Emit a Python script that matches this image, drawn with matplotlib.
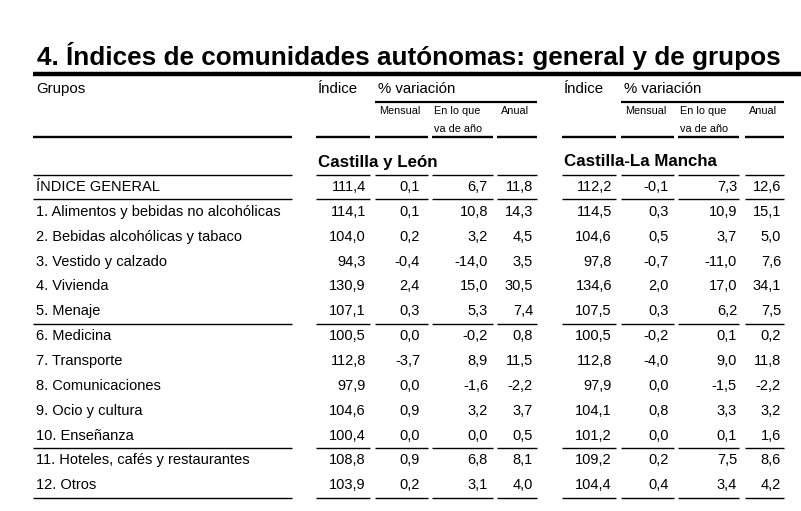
import matplotlib as mpl
mpl.use('Agg')
import matplotlib.pyplot as plt

plt.rcParams['font.family'] = ['Liberation Sans', 'DejaVu Sans']

titulo = '4. Índices de comunidades autónomas: general y de grupos'

grupos = ['ÍNDICE GENERAL',
          '1. Alimentos y bebidas no alcohólicas',
          '2. Bebidas alcohólicas y tabaco',
          '3. Vestido y calzado',
          '4. Vivienda',
          '5. Menaje',
          '6. Medicina',
          '7. Transporte',
          '8. Comunicaciones',
          '9. Ocio y cultura',
          '10. Enseñanza',
          '11. Hoteles, cafés y restaurantes',
          '12. Otros']

regiones = ['Castilla y León', 'Castilla-La Mancha']

cyl_indice  = [111.4, 114.1, 104.0, 94.3, 130.9, 107.1, 100.5, 112.8, 97.9, 104.6, 100.4, 108.8, 103.9]
cyl_mensual = [0.1, 0.1, 0.2, -0.4, 2.4, 0.3, 0.0, -3.7, 0.0, 0.9, 0.0, 0.9, 0.2]
cyl_ano     = [6.7, 10.8, 3.2, -14.0, 15.0, 5.3, -0.2, 8.9, -1.6, 3.2, 0.0, 6.8, 3.1]
cyl_anual   = [11.8, 14.3, 4.5, 3.5, 30.5, 7.4, 0.8, 11.5, -2.2, 3.7, 0.5, 8.1, 4.0]

clm_indice  = [112.2, 114.5, 104.6, 97.8, 134.6, 107.5, 100.5, 112.8, 97.9, 104.1, 101.2, 109.2, 104.4]
clm_mensual = [-0.1, 0.3, 0.5, -0.7, 2.0, 0.3, -0.2, -4.0, 0.0, 0.8, 0.0, 0.2, 0.4]
clm_ano     = [7.3, 10.9, 3.7, -11.0, 17.0, 6.2, 0.1, 9.0, -1.5, 3.3, 0.1, 7.5, 3.4]
clm_anual   = [12.6, 15.1, 5.0, 7.6, 34.1, 7.5, 0.2, 11.8, -2.2, 3.2, 1.6, 8.6, 4.2]

bloques = [[cyl_indice, cyl_mensual, cyl_ano, cyl_anual],
           [clm_indice, clm_mensual, clm_ano, clm_anual]]

# rows followed by a separator line (0 = ÍNDICE GENERAL)
lineas_tras = [0, 5, 10, 12]


def fmt(v):
    return '{:.1f}'.format(v).replace('.', ',')


fig = plt.figure(figsize=(8.01, 5.11), dpi=100)
ax = fig.add_axes([0, 0, 1, 1])
ax.set_xlim(0, 801)
ax.set_ylim(511, 0)
ax.axis('off')

# column segments (x0, x1) and right edge of numbers
seg_grupos = (33, 292)
segs = [[(316, 370), (375, 428), (432, 493), (497, 537)],
        [(562, 616), (621, 674), (678, 739), (745, 784)]]
num_x = [[366, 420, 488, 533], [612, 669, 737, 781]]

ax.text(37, 65, titulo, fontsize=18.8, fontweight='bold', ha='left', va='baseline')
ax.plot([33, 801], [74.5, 74.5], color='black', lw=3.2, solid_capstyle='butt')

ax.text(36, 89, 'Grupos', fontsize=10.8, va='center')
for b in range(2):
    s = segs[b]
    ax.text(s[0][0] + 2, 89, 'Índice', fontsize=10.8, va='center')
    ax.text(s[1][0] + 3, 89, '% variación', fontsize=10.8, va='center')
    ax.plot([s[1][0], s[3][1]], [102.5, 102.5], color='black', lw=1.6, solid_capstyle='butt')
    ax.text(s[1][0] + 4, 111, 'Mensual', fontsize=7.8, va='center')
    ax.text(s[2][0] + 2, 111, 'En lo que', fontsize=7.8, va='center')
    ax.text(s[2][0] + 2, 129, 'va de año', fontsize=7.8, va='center')
    ax.text(s[3][0] + 4, 111, 'Anual', fontsize=7.8, va='center')
    ax.text(s[0][0] + 2, 162, regiones[b], fontsize=12.2, fontweight='bold', va='center')


def hline(y, lw):
    ax.plot(seg_grupos, [y, y], color='black', lw=lw, solid_capstyle='butt')
    for b in range(2):
        for x0, x1 in segs[b]:
            ax.plot([x0, x1], [y, y], color='black', lw=lw, solid_capstyle='butt')


hline(137, 1.7)

y0 = 187
paso = 24.85
hline(y0 - paso / 2, 1.0)
for i, g in enumerate(grupos):
    y = y0 + i * paso
    ax.text(36, y, g, fontsize=10.5, va='center')
    for b in range(2):
        for c in range(4):
            ax.text(num_x[b][c], y, fmt(bloques[b][c][i]), fontsize=10.5, ha='right', va='center')
    if i in lineas_tras:
        hline(y + paso / 2, 1.0)

fig.savefig('out.png', dpi=100, facecolor='white')
